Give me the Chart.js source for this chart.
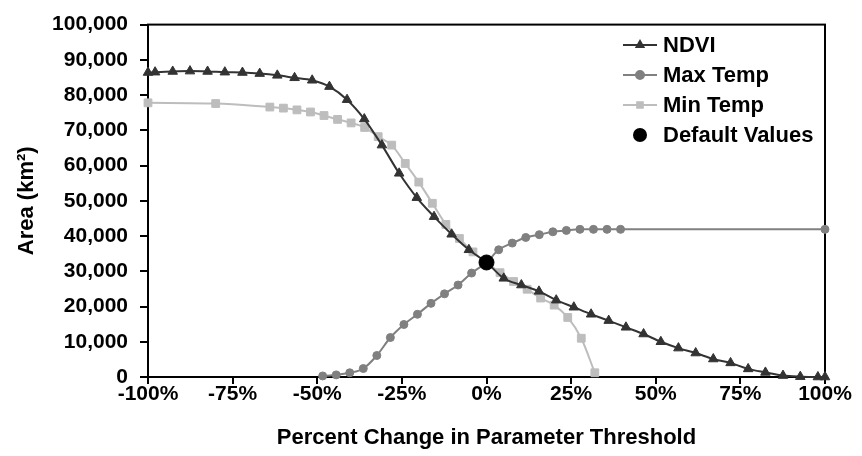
<!DOCTYPE html>
<html>
<head>
<meta charset="utf-8">
<script src="https://cdn.jsdelivr.net/npm/chart.js@4.4.1/dist/chart.umd.min.js"></script>
<style>
  html, body { margin: 0; padding: 0; background: #fff; }
  #wrap { width: 862px; height: 456px; }
</style>
</head>
<body>
<div id="wrap"><canvas id="myChart" width="862" height="456"></canvas></div>
<script>
  // values (x in percent, y in km2)
  var ndviX = [-100, -97.9, -92.7, -87.6, -82.4, -77.3, -72.1, -67, -61.8, -56.7, -51.5, -46.4, -41.2, -36.1, -30.9, -25.8, -20.6, -15.5, -10.3, -5.2,
               0, 5.1, 10.3, 15.5, 20.6, 25.8, 30.9, 36.1, 41.2, 46.4, 51.5, 56.7, 61.8, 67, 72.1, 77.3, 82.4, 87.6, 92.7, 97.9, 100];
  var ndviY = [86400, 86500, 86700, 86800, 86700, 86500, 86400, 86100, 85600, 84900, 84200, 82400, 78700, 73200, 65800, 57800, 50900, 45500, 40500, 36100,
               32500, 28000, 26100, 24300, 21800, 19800, 17800, 16000, 14100, 12200, 10000, 8200, 6800, 5100, 4000, 2300, 1300, 400, 100, 0, 0];

  var maxTempX = [-48.4, -44.4, -40.4, -36.4, -32.4, -28.4, -24.4, -20.4, -16.4, -12.4, -8.4, -4.4, 0,
                  3.6, 7.6, 11.6, 15.6, 19.6, 23.6, 27.6, 31.6, 35.6, 39.6, 100];
  var maxTempY = [300, 600, 1200, 2400, 6100, 11200, 14900, 17800, 20900, 23600, 26100, 29500, 32500,
                  36100, 38000, 39600, 40400, 41200, 41600, 41900, 41900, 41900, 41900, 41900];

  var minTempX = [-100, -80, -64, -60, -56, -52, -48, -44, -40, -36, -32, -28, -24, -20, -16, -12, -8, -4, 0,
                  4, 8, 12, 16, 20, 24, 28, 32];
  var minTempY = [77800, 77600, 76600, 76300, 75800, 75200, 74200, 73100, 72100, 70800, 68200, 65800, 60600, 55300, 49300, 43300, 39300, 35500, 32500,
                  29600, 27100, 24900, 22400, 20400, 16900, 11000, 1200];

  var defaultX = [0];
  var defaultY = [32500];

  var seriesNames = ["NDVI", "Max Temp", "Min Temp", "Default Values"];

  var FONT = "'Liberation Sans', Arial, sans-serif";

  function toPoints(xs, ys) {
    var pts = [];
    for (var i = 0; i < xs.length; i++) {
      pts.push({x: xs[i], y: ys[i]});
    }
    return pts;
  }

  // box round the plot area
  var frame = {
    id: "frame",
    beforeDatasetsDraw: function(chart) {
      var a = chart.chartArea;
      var ctx = chart.ctx;
      ctx.save();
      ctx.strokeStyle = "#000";
      ctx.lineWidth = 2;
      ctx.strokeRect(a.left, a.top, a.right - a.left, a.bottom - a.top);
      ctx.restore();
    }
  };

  // Excel-like legend: short line with the marker in the middle
  var sideLegend = {
    id: "sideLegend",
    afterDraw: function(chart) {
      var ctx = chart.ctx;
      var x0 = 623, x1 = 657, tx = 663;
      ctx.save();
      chart.data.datasets.forEach(function(ds, i) {
        var y = 45 + 30 * i;
        if (ds.showLine !== false) {
          ctx.strokeStyle = ds.borderColor;
          ctx.lineWidth = 2;
          ctx.beginPath();
          ctx.moveTo(x0, y);
          ctx.lineTo(x1, y);
          ctx.stroke();
        }
        ctx.fillStyle = ds.pointBackgroundColor;
        ctx.strokeStyle = ds.pointBorderColor;
        Chart.helpers.drawPoint(ctx, {
          pointStyle: ds.pointStyle,
          radius: ds.showLine === false ? 6 : 4,
          rotation: 0,
          borderWidth: 1
        }, (x0 + x1) / 2, y);
        ctx.fillStyle = "#000";
        ctx.font = "bold 22px " + FONT;
        ctx.textBaseline = "middle";
        ctx.textAlign = "left";
        ctx.fillText(ds.label, tx, y + 1);
      });
      ctx.restore();
    }
  };

  var datasets = [
    {
      label: seriesNames[0],
      data: toPoints(ndviX, ndviY),
      showLine: true,
      borderColor: "#333333",
      borderWidth: 2,
      pointStyle: "triangle",
      pointRadius: 5.5,
      pointBackgroundColor: "#333333",
      pointBorderColor: "#333333",
      pointBorderWidth: 1,
      tension: 0.4,
      cubicInterpolationMode: "monotone",
      clip: false,
      order: 1
    },
    {
      label: seriesNames[1],
      data: toPoints(maxTempX, maxTempY),
      showLine: true,
      borderColor: "#808080",
      borderWidth: 2,
      pointStyle: "circle",
      pointRadius: 4,
      pointBackgroundColor: "#808080",
      pointBorderColor: "#808080",
      pointBorderWidth: 1,
      tension: 0.4,
      cubicInterpolationMode: "monotone",
      clip: false,
      order: 2
    },
    {
      label: seriesNames[2],
      data: toPoints(minTempX, minTempY),
      showLine: true,
      borderColor: "#bdbdbd",
      borderWidth: 2,
      pointStyle: "rect",
      pointRadius: 5.5,
      pointBackgroundColor: "#bdbdbd",
      pointBorderColor: "#bdbdbd",
      pointBorderWidth: 1,
      tension: 0.4,
      cubicInterpolationMode: "monotone",
      clip: false,
      order: 3
    },
    {
      label: seriesNames[3],
      data: toPoints(defaultX, defaultY),
      showLine: false,
      borderColor: "#000",
      pointStyle: "circle",
      pointRadius: 7.5,
      pointBackgroundColor: "#000",
      pointBorderColor: "#000",
      pointBorderWidth: 1,
      clip: false,
      order: 0
    }
  ];

  var config = {
    type: "scatter",
    data: { datasets: datasets },
    options: {
      responsive: false,
      animation: false,
      layout: { padding: { left: 0, top: 16, right: 37, bottom: 0 } },
      plugins: {
        legend: { display: false },
        tooltip: { enabled: false }
      },
      scales: {
        x: {
          type: "linear",
          min: -100,
          max: 100,
          border: { display: false },
          grid: { drawOnChartArea: false, drawTicks: true, tickLength: 7, color: "#000", lineWidth: 2 },
          ticks: {
            stepSize: 25,
            padding: -2,
            color: "#000",
            font: { family: FONT, size: 21, weight: "bold" },
            maxRotation: 0,
            callback: function(v) { return v + "%"; }
          },
          title: {
            display: true,
            text: "Percent Change in Parameter Threshold",
            color: "#000",
            font: { family: FONT, size: 22, weight: "bold" },
            padding: { top: 0, bottom: 5 }
          },
          afterFit: function(scale) { scale.height = 79; }
        },
        y: {
          type: "linear",
          min: 0,
          max: 100000,
          border: { display: false },
          grid: { drawOnChartArea: false, drawTicks: true, tickLength: 8, color: "#000", lineWidth: 2 },
          ticks: {
            stepSize: 10000,
            padding: 12,
            color: "#000",
            font: { family: FONT, size: 21, weight: "bold" },
            callback: function(v) { return v.toLocaleString("en-US"); }
          },
          title: {
            display: true,
            text: "Area (km²)",
            color: "#000",
            font: { family: FONT, size: 22, weight: "bold" },
            padding: { top: 14, bottom: 0 }
          },
          afterFit: function(scale) { scale.width = 148; }
        }
      }
    },
    plugins: [frame, sideLegend]
  };

  var ctx = document.getElementById("myChart");
  window.areaChart = new Chart(ctx, config);
</script>
</body>
</html>
